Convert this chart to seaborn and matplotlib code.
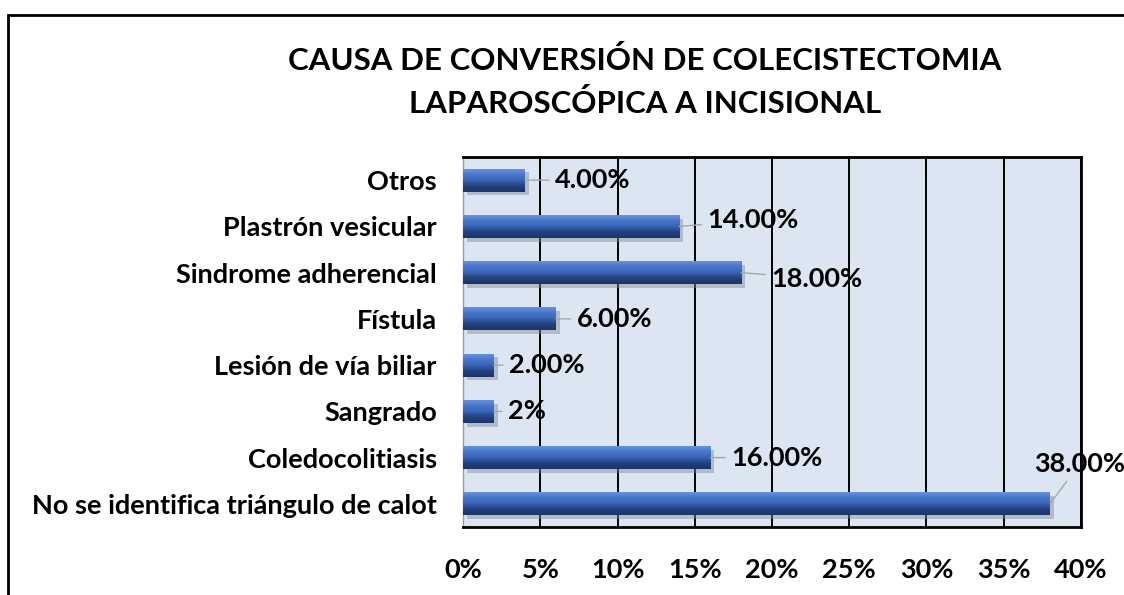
import numpy as np
import pandas as pd
import matplotlib
matplotlib.use("Agg")
import matplotlib.pyplot as plt
import seaborn as sns
from matplotlib.patches import Rectangle

# Datos del gráfico
causas = ["Otros", "Plastrón vesicular", "Sindrome adherencial", "Fístula",
          "Lesión de vía biliar", "Sangrado", "Coledocolitiasis",
          "No se identifica triángulo de calot"]
porcentajes = [4, 14, 18, 6, 2, 2, 16, 38]
etiquetas = ["4.00%", "14.00%", "18.00%", "6.00%", "2.00%", "2%", "16.00%", "38.00%"]
ticks_x = [0, 5, 10, 15, 20, 25, 30, 35, 40]
titulo = "CAUSA DE CONVERSIÓN DE COLECISTECTOMIA\nLAPAROSCÓPICA A INCISIONAL"

df = pd.DataFrame({"causa": causas, "porcentaje": porcentajes})

sns.set_style("white")
plt.rcParams["font.family"] = ["Lato", "DejaVu Sans"]
plt.rcParams["font.weight"] = "bold"
plt.rcParams["text.color"] = "black"
plt.rcParams["xtick.color"] = "black"
plt.rcParams["ytick.color"] = "black"

fig = plt.figure(figsize=(11.24, 5.95), dpi=100)
ax = fig.add_axes([0.412, 0.1143, 0.5497, 0.6218])

sns.barplot(data=df, x="porcentaje", y="causa", orient="h", color="#4472C4",
            width=0.5, ax=ax, zorder=3, linewidth=0)

# efecto de bisel: sombra + degradado sobre cada barra
grad = np.linspace(0, 1, 64).reshape(-1, 1)
cmap = matplotlib.colors.LinearSegmentedColormap.from_list(
    "bisel", ["#6E95E0", "#4A78CC", "#3B65B8", "#23427F", "#1C3468"])
for p in list(ax.patches):
    x0, y0 = p.get_x(), p.get_y()
    w, h = p.get_width(), p.get_height()
    sh = Rectangle((x0 + 0.25, y0 + 0.08), w, h, color="#7f8a99", alpha=0.45,
                   zorder=2, linewidth=0)
    ax.add_patch(sh)
    im = ax.imshow(grad, cmap=cmap, aspect="auto", extent=(x0, x0 + w, y0 + h, y0),
                   zorder=4, interpolation="bicubic")
    im.set_clip_path(p)
    p.set_edgecolor("#2A4C8F")

ax.set_xlim(0, 40)
ax.set_ylim(7.5, -0.5)
ax.set_facecolor("#DCE6F2")
ax.set_xticks(ticks_x)
ax.set_xticklabels([f"{t}%" for t in ticks_x])
ax.xaxis.grid(True, color="black", linewidth=1.4, zorder=1)
ax.set_axisbelow(True)
ax.set_xlabel("")
ax.set_ylabel("")
ax.tick_params(axis="x", length=0, pad=22, labelsize=19.5)
ax.tick_params(axis="y", length=0, pad=19, labelsize=19.5)
for lab in ax.get_xticklabels() + ax.get_yticklabels():
    lab.set_fontweight("bold")

for side in ["top", "right", "bottom"]:
    ax.spines[side].set_color("black")
    ax.spines[side].set_linewidth(2)
ax.spines["left"].set_color("#9a9a9a")
ax.spines["left"].set_linewidth(1)

# etiquetas de datos con líneas guía (desplazamientos en píxeles)
desplaz = [(30, 0), (28, -6), (30, 6), (21, 0), (15, 0), (14, 0), (21, 0), (-16, -40)]
for i, (val, txt) in enumerate(zip(porcentajes, etiquetas)):
    dx, dy = desplaz[i]
    ax.annotate(txt, xy=(val, i), xytext=(dx, -dy), textcoords="offset pixels",
                ha="left", va="center", fontsize=19.5, fontweight="bold", zorder=6,
                annotation_clip=False,
                arrowprops=dict(arrowstyle="-", color="#a6a6a6", lw=1,
                                shrinkA=2, shrinkB=0))

fig.text(0.574, 0.862, titulo, ha="center", va="center", fontsize=22.5,
         fontweight="bold", linespacing=1.6)

# marco exterior
fig.patches.append(Rectangle((8 / 1124, -0.05), 1.2, 1 - 15 / 595 + 0.05,
                             transform=fig.transFigure, fill=False,
                             edgecolor="black", linewidth=2))

fig.savefig("out.png", dpi=100)
